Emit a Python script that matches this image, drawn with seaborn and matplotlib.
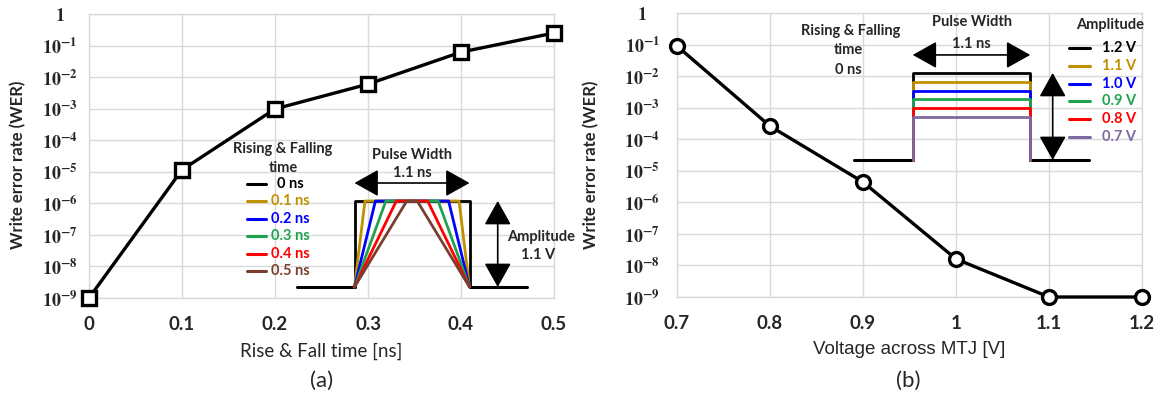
import numpy as np
import matplotlib
matplotlib.use("Agg")
import matplotlib.pyplot as plt
import seaborn as sns

# ---- data -------------------------------------------------------------
rise_fall_ns = [0.0, 0.1, 0.2, 0.3, 0.4, 0.5]
wer_vs_rise = [1.0e-9, 1.15e-5, 9.8e-4, 6.0e-3, 6.2e-2, 0.25]

voltage_v = [0.7, 0.8, 0.9, 1.0, 1.1, 1.2]
wer_vs_voltage = [0.09, 2.6e-4, 4.4e-6, 1.6e-8, 1.0e-9, 1.0e-9]

wer_ticks = [1e-9, 1e-8, 1e-7, 1e-6, 1e-5, 1e-4, 1e-3, 1e-2, 1e-1, 1]
wer_tick_labels = [r"$\mathbf{10^{-%d}}$" % k for k in range(9, 0, -1)] + [r"$\mathbf{1}$"]
rise_ticks = [0, 0.1, 0.2, 0.3, 0.4, 0.5]
rise_tick_labels = ["0", "0.1", "0.2", "0.3", "0.4", "0.5"]
volt_ticks = [0.7, 0.8, 0.9, 1.0, 1.1, 1.2]
volt_tick_labels = ["0.7", "0.8", "0.9", "1", "1.1", "1.2"]

# waveform schematics
pulse_width_ns = 1.1
inset_rise_ns = [0.0, 0.1, 0.2, 0.3, 0.4, 0.5]
inset_rise_labels = ["0 ns", "0.1 ns", "0.2 ns", "0.3 ns", "0.4 ns", "0.5 ns"]
inset_amp_a = 1.1
inset_amps = [1.2, 1.1, 1.0, 0.9, 0.8, 0.7]
inset_amp_labels = ["1.2 V", "1.1 V", "1.0 V", "0.9 V", "0.8 V", "0.7 V"]
series_colors = ["#000000", "#BF9000", "#0000FF", "#1FA34F", "#FF0000", "#7A3E2E"]
amp_colors = ["#000000", "#BF9000", "#0000FF", "#1FA34F", "#FF0000", "#7E68A0"]

# ---- style ------------------------------------------------------------
W, H = 1161, 398
sns.set_theme(style="whitegrid")
plt.rcParams.update({
    "font.family": ["Lato", "DejaVu Sans"],
    "mathtext.fontset": "stix",
    "grid.color": "#d9d9d9",
    "grid.linewidth": 1.0,
    "axes.edgecolor": "#d9d9d9",
    "axes.linewidth": 1.0,
})

fig = plt.figure(figsize=(W / 100, H / 100), dpi=100)


def px_box(x0, y0, x1, y1):
    return [x0 / W, 1 - y1 / H, (x1 - x0) / W, (y1 - y0) / H]


ax_a = fig.add_axes(px_box(89, 14, 554, 298))
ax_b = fig.add_axes(px_box(677, 13, 1142, 297))

line_kw = dict(color="black", linewidth=2.4, markerfacecolor="white",
               markeredgecolor="black", markeredgewidth=2.4, clip_on=False,
               zorder=5)
sns.lineplot(x=rise_fall_ns, y=wer_vs_rise, ax=ax_a, marker="s", markersize=10, **line_kw)
sns.lineplot(x=voltage_v, y=wer_vs_voltage, ax=ax_b, marker="o", markersize=10, **line_kw)

for ax, xt, xtl, xlim, pad in [(ax_a, rise_ticks, rise_tick_labels, (0, 0.5), 21),
                               (ax_b, volt_ticks, volt_tick_labels, (0.7, 1.2), 25)]:
    ax.set_yscale("log")
    ax.set_ylim(1e-9, 1)
    ax.set_xlim(*xlim)
    ax.set_yticks(wer_ticks)
    ax.set_yticklabels(wer_tick_labels, fontsize=13)
    ax.minorticks_off()
    ax.set_xticks(xt)
    ax.set_xticklabels(xtl, fontsize=13.5, fontweight="bold")
    ax.tick_params(axis="both", length=0)
    ax.tick_params(axis="y", pad=pad)
    ax.tick_params(axis="x", pad=13)
    for lbl in ax.get_yticklabels():
        lbl.set_horizontalalignment("center")
    ax.grid(True, which="major")
    ax.set_ylabel("Write error rate (WER)", fontsize=12, fontweight="bold")
    ax.yaxis.label.set_verticalalignment("center")

ax_a.yaxis.set_label_coords((18 - 89) / 465, (298 - 165) / 284)
ax_b.yaxis.set_label_coords((591 - 677) / 465, (297 - 165) / 284)
ax_a.set_xlabel("Rise & Fall time [ns]", fontsize=13.5)
ax_b.set_xlabel("Voltage across MTJ [V]", fontsize=13.5, family=["Liberation Sans", "DejaVu Sans"])
for ax in (ax_a, ax_b):
    ax.xaxis.set_label_coords(0.5, -(351 - 298) / 284)
    ax.xaxis.label.set_verticalalignment("center")

fig.text(322 / W, 1 - 381 / H, "(a)", ha="center", va="center", fontsize=16)
fig.text(908 / W, 1 - 381 / H, "(b)", ha="center", va="center", fontsize=16)

arrow_kw = dict(arrowstyle="<|-|>,head_length=0.75,head_width=0.42",
                mutation_scale=20, color="black", lw=1.2, shrinkA=0, shrinkB=0)
txt_kw = dict(fontsize=10.5, fontweight="bold", ha="center", va="center")

# ---- inset (a): trapezoidal pulses with different edge times ---------
ins_a = fig.add_axes(px_box(297, 140, 527, 287))
ins_a.set_xlim(-0.55, pulse_width_ns + 0.55)
ins_a.set_ylim(0, 1.88)
ins_a.axis("off")
ins_a.patch.set_alpha(0)
ins_a.plot([-0.55, 0], [0, 0], color="black", lw=2.2, clip_on=False)
ins_a.plot([pulse_width_ns, pulse_width_ns + 0.55], [0, 0], color="black", lw=2.2, clip_on=False)
for r, c in zip(inset_rise_ns, series_colors):
    ins_a.plot([0, r, pulse_width_ns - r, pulse_width_ns],
               [0, inset_amp_a, inset_amp_a, 0], color=c, lw=2.0, clip_on=False)
ins_a.annotate("", xy=(0, 1.33), xytext=(pulse_width_ns, 1.33),
               arrowprops=arrow_kw, annotation_clip=False)
ins_a.text(pulse_width_ns / 2, 1.69, "Pulse Width", **txt_kw)
ins_a.text(pulse_width_ns / 2, 1.46, "1.1 ns", **txt_kw)
ins_a.annotate("", xy=(1.37, 0), xytext=(1.37, inset_amp_a),
               arrowprops=arrow_kw, annotation_clip=False)
ins_a.text(1.78, 0.64, "Amplitude", **txt_kw)
ins_a.text(1.76, 0.41, "1.1 V", **txt_kw)

# ---- inset (b): rectangular pulses with different amplitudes ---------
rest_level = 0.21
ins_b = fig.add_axes(px_box(854, 10, 1089, 160))
ins_b.set_xlim(-0.55, pulse_width_ns + 0.55)
ins_b.set_ylim(rest_level, 1.916)
ins_b.axis("off")
ins_b.patch.set_alpha(0)
ins_b.plot([-0.55, 0], [rest_level] * 2, color="black", lw=2.2, clip_on=False)
ins_b.plot([pulse_width_ns, pulse_width_ns + 0.55], [rest_level] * 2, color="black", lw=2.2, clip_on=False)
for v, c in zip(inset_amps, amp_colors):
    ins_b.plot([0, 0, pulse_width_ns, pulse_width_ns],
               [rest_level, v, v, rest_level], color=c, lw=2.0, clip_on=False)
ins_b.annotate("", xy=(0, 1.405), xytext=(pulse_width_ns, 1.405),
               arrowprops=arrow_kw, annotation_clip=False)
ins_b.text(pulse_width_ns / 2, 1.78, "Pulse Width", **txt_kw)
ins_b.text(pulse_width_ns / 2, 1.53, "1.1 ns", **txt_kw)
ins_b.annotate("", xy=(1.31, rest_level), xytext=(1.31, max(inset_amps)),
               arrowprops=arrow_kw, annotation_clip=False)

# ---- legends of the schematics (pixel coordinates) --------------------
ov = fig.add_axes([0, 0, 1, 1])
ov.set_xlim(0, W)
ov.set_ylim(H, 0)
ov.axis("off")
ov.patch.set_alpha(0)

ov.text(283, 149, "Rising & Falling", **txt_kw)
ov.text(283, 168, "time", **txt_kw)
for i, (lab, c) in enumerate(zip(inset_rise_labels, series_colors)):
    y = 184 + 17.4 * i
    ov.plot([247, 266], [y, y], color=c, lw=2.2)
    ov.text(277 if i == 0 else 271, y, lab, color=c, fontsize=10.5,
            fontweight="bold", ha="left", va="center")

ov.text(851, 31, "Rising & Falling", **txt_kw)
ov.text(848, 50, "time", **txt_kw)
ov.text(848, 70, "0 ns", **txt_kw)
ov.text(1110, 25, "Amplitude", **txt_kw)
for i, (lab, c) in enumerate(zip(inset_amp_labels, amp_colors)):
    y = 48 + 17.8 * i
    ov.plot([1069, 1090], [y, y], color=c, lw=2.2)
    ov.text(1102, y, lab, color=c, fontsize=10.5, fontweight="bold", ha="left", va="center")

fig.savefig("out.png", dpi=100)
